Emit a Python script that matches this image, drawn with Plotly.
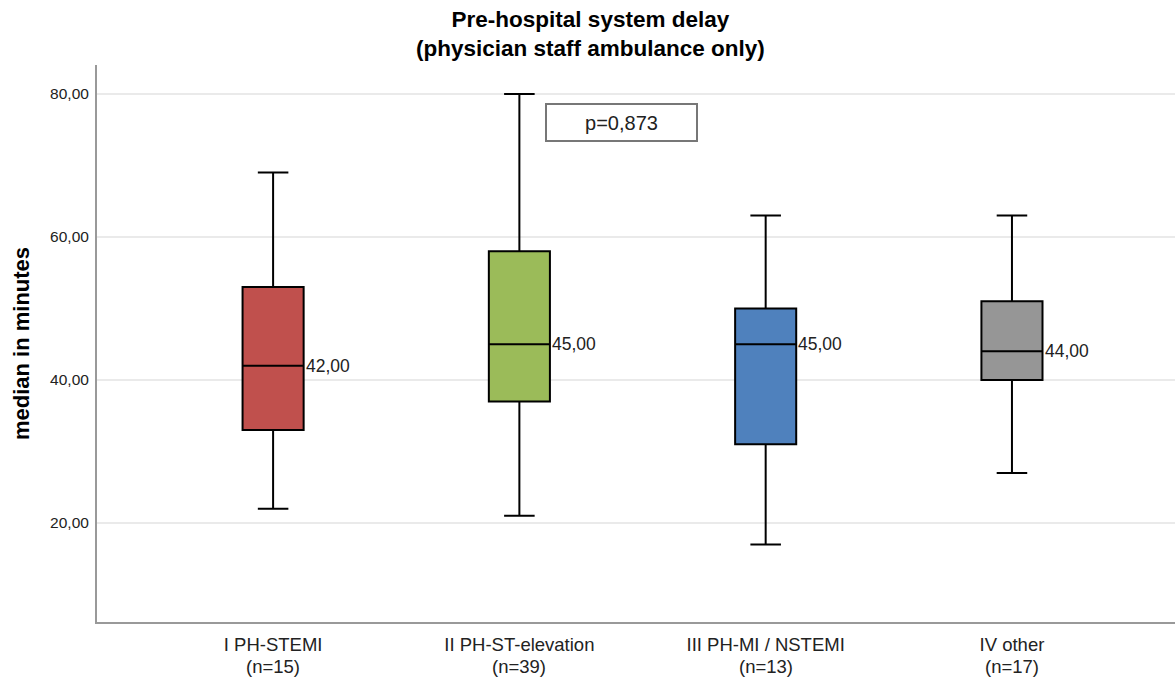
import plotly.graph_objects as go

categories = ["I PH-STEMI", "II PH-ST-elevation", "III PH-MI / NSTEMI", "IV other"]
n_counts = [15, 39, 13, 17]
lower_whisker = [22, 21, 17, 27]
q1 = [33, 37, 31, 40]
median = [42, 45, 45, 44]
q3 = [53, 58, 50, 51]
upper_whisker = [69, 80, 63, 63]
colors = ["#C0504D", "#9BBB59", "#4F81BD", "#969696"]
p_text = "p=0,873"
title_text = "<b>Pre-hospital system delay<br>(physician staff ambulance only)</b>"

FONT = "Liberation Sans, Arial, sans-serif"
XFONT = "Liberation Sans Narrow, Arial Narrow, Liberation Sans, sans-serif"

fig = go.Figure()
for i in range(len(categories)):
    fig.add_trace(go.Box(
        x=[i], q1=[q1[i]], median=[median[i]], q3=[q3[i]],
        lowerfence=[lower_whisker[i]], upperfence=[upper_whisker[i]],
        width=0.248, whiskerwidth=0.5,
        fillcolor=colors[i], line=dict(color="black", width=2),
        boxpoints=False, showlegend=False, hoverinfo="skip",
    ))
    fig.add_annotation(
        x=i + 0.124, y=median[i], xref="x", yref="y",
        text=f"{median[i]:.2f}".replace(".", ","), showarrow=False,
        xanchor="left", yanchor="middle", xshift=0,
        font=dict(family=FONT, size=17.5, color="#222"),
    )
    # second line of the category label
    fig.add_annotation(
        x=i, y=-0.0795, xref="x", yref="paper", text=f"(n={n_counts[i]})",
        showarrow=False, xanchor="center", yanchor="middle",
        font=dict(family=XFONT, size=18.5, color="#222"),
    )

fig.add_annotation(
    x=1.413, y=76.0, xref="x", yref="y", text=p_text, showarrow=False,
    width=149, height=35, bordercolor="#777", borderwidth=2, borderpad=0,
    bgcolor="white", font=dict(family=FONT, size=20, color="#222"),
)

fig.add_annotation(
    x=0.4575, y=1.107, xref="paper", yref="paper", text=title_text, showarrow=False,
    xanchor="center", yanchor="top",
    font=dict(family=FONT, size=22.5, color="black"),
)

fig.update_layout(
    width=1175, height=679,
    margin=dict(l=97, r=0, t=65, b=57),
    paper_bgcolor="white", plot_bgcolor="white",
    xaxis=dict(
        range=[-0.715, 3.662], tickmode="array", tickvals=list(range(len(categories))),
        ticktext=categories,
        showgrid=False, zeroline=False, showline=True, linecolor="#999", linewidth=2,
        ticks="", ticklabelstandoff=5, automargin=False,
        tickfont=dict(family=XFONT, size=18.5, color="#222"),
    ),
    yaxis=dict(
        range=[6.15, 84.05], tickmode="array", tickvals=[20, 40, 60, 80],
        ticktext=["20,00", "40,00", "60,00", "80,00"],
        showgrid=True, gridcolor="#EAEAEA", gridwidth=1.5, zeroline=False,
        showline=True, linecolor="#999", linewidth=2, ticks="", ticklabelstandoff=3,
        automargin=False,
        tickfont=dict(family=FONT, size=15.5, color="#222"),
        title=dict(text="<b>median in minutes</b>", standoff=14,
                   font=dict(family=FONT, size=22, color="black")),
    ),
)

fig.write_html("out.html")
